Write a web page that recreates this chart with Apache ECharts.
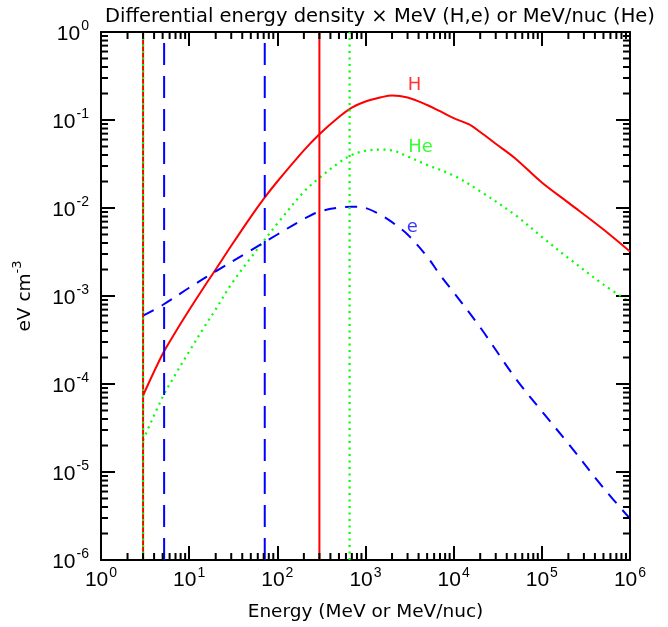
<!DOCTYPE html>
<html><head><meta charset="utf-8">
<script src="https://cdn.jsdelivr.net/npm/echarts@6/dist/echarts.min.js"></script>
<style>html,body{margin:0;padding:0;background:#fff}#c{width:668px;height:627px}</style>
</head><body><div id="c"></div>
<script>
// ---- data ----
const energyH = [3,5,7,10,15,20,30,50,70,100,200,300,500,700,1000,1500,2000,3000,5000,7000,1e4,1.5e4,2e4,3e4,5e4,1e5,2e5,5e5,1e6];
const densityH = [7.4e-5,2.19e-4,3.89e-4,6.92e-4,1.30e-3,2.0e-3,3.72e-3,7.94e-3,1.27e-2,2.0e-2,4.52e-2,6.9e-2,0.108,0.138,0.162,0.181,0.190,0.180,0.148,0.126,0.105,0.089,0.073,0.0537,0.0366,0.0195,0.0115,0.0057,0.0032];
const energyHe = [3,5,7,10,15,20,30,50,70,100,200,300,500,700,1000,1500,2000,3000,5000,1e4,2e4,5e4,1e5,2e5,5e5,1e6];
const densityHe = [2.3e-5,7.1e-5,1.29e-4,2.34e-4,4.52e-4,7.06e-4,1.36e-3,2.72e-3,4.22e-3,6.65e-3,1.53e-2,2.20e-2,3.27e-2,4.0e-2,4.47e-2,4.6e-2,4.52e-2,3.85e-2,3.09e-2,2.34e-2,1.55e-2,8.3e-3,4.7e-3,2.7e-3,1.35e-3,8.5e-4];
const energyE = [3,5,10,20,50,100,200,300,500,700,1000,1500,2000,3000,5000,7000,1e4,2e4,5e4,1e5,2e5,5e5,1e6];
const densityE = [6.0e-4,7.9e-4,1.24e-3,1.91e-3,3.3e-3,5.0e-3,7.5e-3,9.1e-3,1.01e-2,1.035e-2,1.0e-2,8.3e-3,6.9e-3,5.0e-3,2.8e-3,1.74e-3,1.1e-3,4.4e-4,1.17e-4,4.9e-5,2.1e-5,6.6e-6,2.95e-6];
const vlineRed = [3, 300];
const vlineGreen = [3, 660];
const vlineBlue = [5.2, 72];
const xRange = [1, 1e6];
const yRange = [1e-6, 1];
const xTickLabels = ['0','1','2','3','4','5','6'];
const yTickLabels = ['-6','-5','-4','-3','-2','-1','0'];
const xMinorTicks = [];
const yMinorTicks = [];
[1,10,100,1000,1e4,1e5].forEach(d => [2,3,4,5,6,7,8,9].forEach(m => xMinorTicks.push(m*d)));
[1e-6,1e-5,1e-4,1e-3,1e-2,1e-1].forEach(d => [2,3,4,5,6,7,8,9].forEach(m => yMinorTicks.push(m*d)));
const curveLabels = [
  {name:'H', e:3600, v:0.245, color:'#ff0000'},
  {name:'He', e:4200, v:0.049, color:'#00ff00'},
  {name:'e', e:3400, v:0.0061, color:'#0000ff'}
];

const FONT = 'Liberation Sans, Arial, sans-serif';
const TFONT = 'DejaVu Sans, sans-serif';
const RED = '#ff0000', GREEN = '#00ff00', BLUE = '#0000ff';

function pairs(xs, ys){ return xs.map((x,i)=>[x, ys[i]]); }
function expLabel(arr, v){
  const k = Math.round(Math.log10(v));
  const idx = arr === xTickLabels ? k : k + 6;
  return '{b|10}{s|' + arr[idx] + '}';
}
const rich = {
  b: {fontSize: 21, fontFamily: FONT, color:'#000', lineHeight: 25, verticalAlign:'bottom'},
  s: {fontSize: 14, fontFamily: FONT, color:'#000', lineHeight: 14, verticalAlign:'top', padding:[0,0,0,1]}
};
const axisCommon = {
  type: 'log', logBase: 10,
  axisLine: {show: true, onZero: false, lineStyle: {color:'#000', width: 2}},
  axisTick: {show: true, inside: true, length: 14, lineStyle: {color:'#000', width: 2}},
  splitLine: {show: false},
  minorTick: {show: false}
};
const vSeries = (vals, color, type, width) => vals.map(e => ({
  type: 'line', data: [[e, yRange[0]], [e, yRange[1]]], symbol: 'none', silent: true,
  lineStyle: {color, width, type}, z: 3
}));

const minorRender = (isX) => function(params, api){
  const v = api.value(isX ? 0 : 1);
  const len = 7;
  let c0, c1;
  if (isX) {
    c0 = api.coord([v, yRange[0]]); c1 = api.coord([v, yRange[1]]);
    return {type:'group', children:[
      {type:'line', shape:{x1:c0[0], y1:c0[1], x2:c0[0], y2:c0[1]-len}, style:{stroke:'#000', lineWidth:2}},
      {type:'line', shape:{x1:c1[0], y1:c1[1], x2:c1[0], y2:c1[1]+len}, style:{stroke:'#000', lineWidth:2}}
    ]};
  } else {
    c0 = api.coord([xRange[0], v]); c1 = api.coord([xRange[1], v]);
    return {type:'group', children:[
      {type:'line', shape:{x1:c0[0], y1:c0[1], x2:c0[0]+len, y2:c0[1]}, style:{stroke:'#000', lineWidth:2}},
      {type:'line', shape:{x1:c1[0], y1:c1[1], x2:c1[0]-len, y2:c1[1]}, style:{stroke:'#000', lineWidth:2}}
    ]};
  }
};

const chart = echarts.init(document.getElementById('c'), null, {renderer:'canvas'});
chart.setOption({
  animation: false,
  backgroundColor: '#fff',
  title: {
    text: 'Differential energy density × MeV (H,e) or MeV/nuc (He)',
    left: 375, top: 2, textAlign: 'center',
    textStyle: {fontFamily: TFONT, fontSize: 19.5, fontWeight: 'normal', color:'#000'}
  },
  grid: {left: 101, right: 38, top: 32, bottom: 65, containLabel: false},
  xAxis: [
    Object.assign({}, axisCommon, {
      position: 'bottom', min: xRange[0], max: xRange[1],
      name: 'Energy (MeV or MeV/nuc)', nameLocation: 'middle', nameGap: 43,
      nameTextStyle: {fontFamily: TFONT, fontSize: 18.5, color:'#000'},
      axisLabel: {show: true, margin: 6, formatter: v => expLabel(xTickLabels, v), rich}
    }),
    Object.assign({}, axisCommon, {position: 'top', min: xRange[0], max: xRange[1], axisLabel: {show: false}})
  ],
  yAxis: [
    Object.assign({}, axisCommon, {
      position: 'left', min: yRange[0], max: yRange[1],
      name: '{n|eV cm}{s|-3}', nameLocation: 'middle', nameGap: 66, nameRotate: 90,
      nameTextStyle: {rich: {
        n: {fontFamily: TFONT, fontSize: 18.5, color:'#000', lineHeight: 24, verticalAlign:'bottom'},
        s: {fontFamily: TFONT, fontSize: 13, color:'#000', lineHeight: 14, verticalAlign:'top'}
      }},
      axisLabel: {show: true, margin: 12, formatter: v => expLabel(yTickLabels, v), rich}
    }),
    Object.assign({}, axisCommon, {position: 'right', min: yRange[0], max: yRange[1], axisLabel: {show: false}})
  ],
  series: [
    {type:'custom', renderItem: minorRender(true), data: xMinorTicks.map(v => [v, yRange[0]]), silent: true, clip: false, z: 5},
    {type:'custom', renderItem: minorRender(false), data: yMinorTicks.map(v => [xRange[0], v]), silent: true, clip: false, z: 5},
    {type:'line', data: pairs(energyH, densityH), symbol:'none', smooth: 0.35, lineStyle:{color: RED, width: 2}, z: 2},
    {type:'line', data: pairs(energyHe, densityHe), symbol:'none', smooth: 0.35, lineStyle:{color: GREEN, width: 2.2, type:[2,4.5]}, z: 2},
    {type:'line', data: pairs(energyE, densityE), symbol:'none', smooth: 0.35, lineStyle:{color: BLUE, width: 2, type:[12,9]}, z: 2},
    ...vSeries(vlineRed, RED, 'solid', 2),
    ...vSeries(vlineBlue, BLUE, [22,11], 2),
    ...vSeries(vlineGreen, GREEN, [2,4.5], 2.2),
    {type:'scatter', symbolSize: 0, silent: true, z: 6,
     data: curveLabels.map(c => ({value:[c.e, c.v], label:{show:true, position:[0,0], align:'center', verticalAlign:'middle', formatter: c.name, color: c.color, fontFamily: TFONT, fontSize: 18}}))}
  ]
});
</script>
</body></html>
